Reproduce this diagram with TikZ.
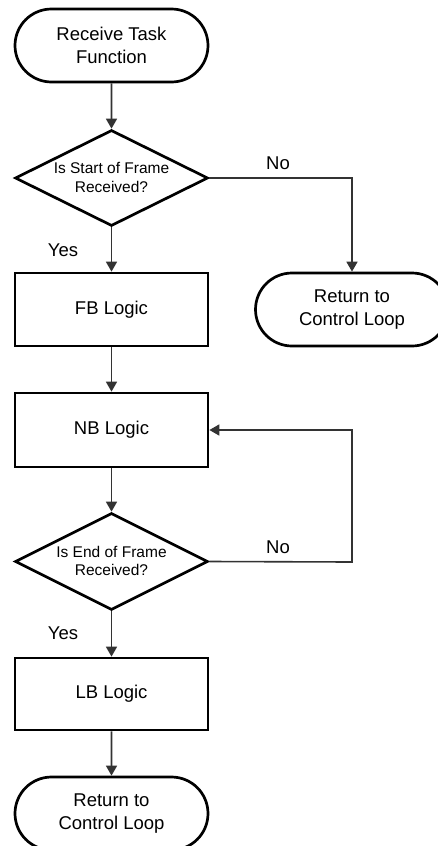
\documentclass[tikz,border=0pt]{standalone}
\usepackage{fontspec}
\setmainfont{Liberation Sans}
\usetikzlibrary{shapes.geometric,shapes.misc,arrows.meta}

\tikzset{
  base/.style={draw=black, line width=2.7pt, inner sep=0pt, align=center,
               font=\fontsize{18.5}{23}\selectfont},
  terminal/.style={base, rounded rectangle, minimum width=193pt, minimum height=73pt},
  process/.style={base, rectangle, minimum width=193pt, minimum height=73pt},
  decision/.style={draw=black, line width=2.7pt, diamond, inner sep=0pt,
                   minimum width=193pt, minimum height=96pt},
  decisiontext/.style={align=center, inner sep=0pt, font=\fontsize{15.5}{18.5}\selectfont},
  flow/.style={draw=black!80, line width=1.6pt,
               -{Triangle[length=10pt,width=11pt]}},
  tag/.style={inner sep=0pt, font=\fontsize{18.5}{22}\selectfont},
}

\begin{document}
\begin{tikzpicture}[x=1pt, y=-1pt]
  \useasboundingbox (0,0) rectangle (438,846);
  \clip (0,0) rectangle (438,846);

  % main column
  \node[terminal] (start) at (111.5,45.5) {Receive Task\\Function};
  \node[decision] (d1) at (111.5,178) {};
  \node[decisiontext] (d1t) at (111.5,177.5) {Is Start of Frame\\Received?};
  \node[process] (fb) at (111.5,309.5) {FB Logic};
  \node[process, minimum height=74pt] (nb) at (111.5,430) {NB Logic};
  \node[decision, minimum height=97pt] (d2) at (111.5,561.5) {};
  \node[decisiontext] (d2t) at (111.5,561) {Is End of Frame\\Received?};
  \node[process, minimum height=72pt] (lb) at (111.5,694) {LB Logic};
  \node[terminal] (ret2) at (111.5,813.5) {Return to\\Control Loop};

  % side exit
  \node[terminal] (ret1) at (352,309.5) {Return to\\Control Loop};

  % corner points of the elbow connectors
  \coordinate (c1) at (352,178);
  \coordinate (c2) at (352,562);

  % connectors
  \draw[flow] (start) -- (d1);
  \draw[flow] (d1.south) -- (fb.north);
  \draw[flow] (fb) -- (nb);
  \draw[flow] (nb) -- (d2);
  \draw[flow] (d2.south) -- (lb.north);
  \draw[flow] (lb) -- (ret2);
  \draw[flow] (d1.east) -- (c1) -- (ret1.north);
  \draw[flow] (d2.east) -- (c2) |- (nb.east);

  % branch labels
  \node[tag] (no1) at (278,163) {No};
  \node[tag] (yes1) at (63,250) {Yes};
  \node[tag] (no2) at (278,547) {No};
  \node[tag] (yes2) at (63,633) {Yes};
\end{tikzpicture}
\end{document}
